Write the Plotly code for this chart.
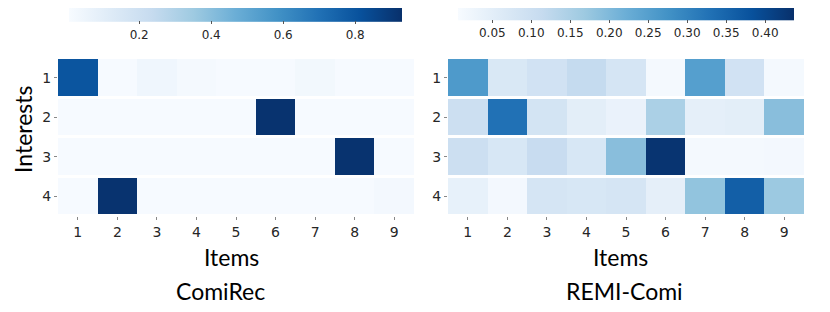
import plotly.graph_objects as go

items = ["1", "2", "3", "4", "5", "6", "7", "8", "9"]
interests = ["1", "2", "3", "4"]

comirec = [
    [0.80, 0.01, 0.04, 0.02, 0.01, 0.01, 0.03, 0.01, 0.01],
    [0.01, 0.01, 0.01, 0.01, 0.01, 0.92, 0.01, 0.01, 0.01],
    [0.01, 0.01, 0.01, 0.01, 0.01, 0.01, 0.01, 0.92, 0.01],
    [0.01, 0.92, 0.01, 0.01, 0.01, 0.01, 0.01, 0.01, 0.025],
]

remi_comi = [
    [0.26, 0.07, 0.09, 0.115, 0.08, 0.012, 0.25, 0.09, 0.012],
    [0.10, 0.33, 0.085, 0.05, 0.035, 0.15, 0.045, 0.05, 0.19],
    [0.10, 0.075, 0.11, 0.075, 0.19, 0.43, 0.012, 0.012, 0.015],
    [0.04, 0.015, 0.08, 0.075, 0.08, 0.045, 0.18, 0.36, 0.17],
]

comirec_ticks = [0.2, 0.4, 0.6, 0.8]
comirec_tick_text = ["0.2", "0.4", "0.6", "0.8"]
remi_ticks = [0.05, 0.10, 0.15, 0.20, 0.25, 0.30, 0.35, 0.40]
remi_tick_text = ["0.05", "0.10", "0.15", "0.20", "0.25", "0.30", "0.35", "0.40"]

blues = ["#f7fbff", "#deebf7", "#c6dbef", "#9ecae1", "#6baed6",
         "#4292c6", "#2171b5", "#08519c", "#08306b"]
cscale = [[i / (len(blues) - 1), c] for i, c in enumerate(blues)]

W, H = 830, 312
OFF = 8  # page body margin offset
def px(x):
    return (x - OFF) / W
def py(y):
    return 1 - (y - OFF) / H

tick_font = dict(family="DejaVu Sans", size=14, color="#262626")
cb_font = dict(family="DejaVu Sans", size=12, color="#262626")
label_font = "Lato"

fig = go.Figure()

fig.add_trace(go.Heatmap(
    z=comirec, x=items, y=interests, colorscale=cscale,
    zmin=0.005, zmax=0.93, xgap=0, ygap=3,
    xaxis="x", yaxis="y",
    colorbar=dict(orientation="h", x=px(235.5), xanchor="center",
                  y=py(23), yanchor="middle", len=333 / W, lenmode="fraction",
                  thickness=18, outlinewidth=0, tickvals=comirec_ticks,
                  ticktext=comirec_tick_text,
                  ticks="outside", ticklen=3, tickcolor="#555",
                  tickfont=cb_font, xpad=0, ypad=0),
))

fig.add_trace(go.Heatmap(
    z=remi_comi, x=items, y=interests, colorscale=cscale,
    zmin=0.006, zmax=0.437, xgap=0, ygap=3,
    xaxis="x2", yaxis="y2",
    colorbar=dict(orientation="h", x=px(626), xanchor="center",
                  y=py(22), yanchor="middle", len=336 / W, lenmode="fraction",
                  thickness=17, outlinewidth=0, tickvals=remi_ticks,
                  ticktext=remi_tick_text,
                  ticks="outside", ticklen=3, tickcolor="#555",
                  tickfont=cb_font, xpad=0, ypad=0),
))

ax_common = dict(ticks="outside", ticklen=3, tickcolor="#888", tickfont=tick_font,
                 showgrid=False, zeroline=False, showline=False)

fig.update_layout(
    width=W, height=H,
    margin=dict(l=0, r=0, t=0, b=0, autoexpand=False),
    paper_bgcolor="white", plot_bgcolor="white",
    showlegend=False,
    xaxis=dict(domain=[px(58), px(414)], anchor="y", **ax_common),
    yaxis=dict(domain=[py(216), py(58)], anchor="x", autorange="reversed", **ax_common),
    xaxis2=dict(domain=[px(448), px(804)], anchor="y2", **ax_common),
    yaxis2=dict(domain=[py(216), py(58)], anchor="x2", autorange="reversed", **ax_common),
)

annots = [
    dict(text="Items", x=px(231), y=py(257), size=23),
    dict(text="ComiRec", x=px(220), y=py(291), size=23),
    dict(text="Items", x=px(620), y=py(257), size=23),
    dict(text="REMI-Comi", x=px(624), y=py(291), size=23),
]
for a in annots:
    fig.add_annotation(text=a["text"], x=a["x"], y=a["y"], xref="paper", yref="paper",
                       xanchor="center", yanchor="middle", showarrow=False,
                       font=dict(family=label_font, size=a["size"], color="black"))

fig.add_annotation(text="Interests", x=0, y=py(129), xref="paper", yref="paper",
                   xanchor="left", yanchor="middle", showarrow=False, textangle=-90,
                   borderpad=0, font=dict(family=label_font, size=23, color="black"))

fig.write_html("out.html")
